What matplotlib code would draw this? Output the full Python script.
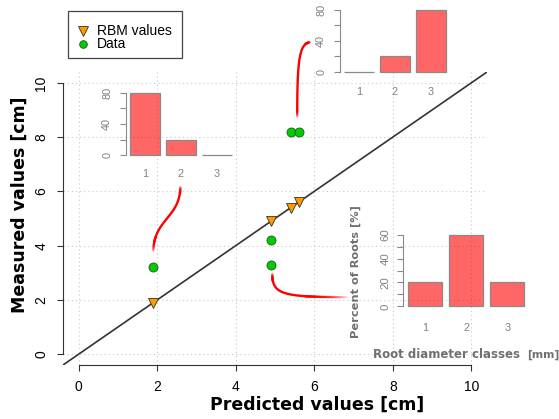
import numpy as np
import matplotlib
matplotlib.use("Agg")
import matplotlib.pyplot as plt
from matplotlib.collections import LineCollection
from matplotlib.lines import Line2D
from matplotlib.patches import Rectangle

# ---- values -------------------------------------------------------------
rbm_pred = [1.9, 4.9, 5.4, 5.6]          # predicted (RBM) values [cm]
rbm_meas = [1.9, 4.9, 5.4, 5.6]
data_pred = [1.9, 4.9, 4.9, 5.4, 5.6]    # observed points [cm]
data_meas = [3.2, 4.2, 3.3, 8.2, 8.2]

classes = ["1", "2", "3"]                # root diameter classes
pct_thin = [80, 20, 0]                   # root distribution, shallow site
pct_thick = [0, 20, 80]                  # root distribution, deep site
pct_mixed = [20, 60, 20]                 # root distribution, middle site

x_ticks = [0, 2, 4, 6, 8, 10]
y_ticks = [0, 2, 4, 6, 8, 10]

# ---- figure helpers -------------------------------------------------------
W, H = 559, 419
fig = plt.figure(figsize=(W / 100, H / 100), dpi=100)
SANS = "Liberation Sans"
BOLD = "DejaVu Sans"
GREY = "#808080"
LABEL_GREY = "#707070"


def px_axes(left, top, right, bottom):
    return fig.add_axes([left / W, 1 - bottom / H, (right - left) / W, (bottom - top) / H])


def fx(x):
    return x / W


def fy(y):
    return 1 - y / H


tri_style = dict(marker="v", ms=7.5, mfc="#FF9900", mec="#333333", mew=0.6, ls="none")
dot_style = dict(marker="o", ms=6.5, mfc="#00CC00", mec="#225522", mew=0.6, ls="none")

# ---- main scatter ---------------------------------------------------------
ax = px_axes(63, 72, 487, 365)
ax.set_xlim(-0.4, 10.4)
ax.set_ylim(-0.4, 10.4)
ax.set_facecolor("none")
ax.set_xticks(x_ticks)
ax.set_yticks(y_ticks)
ax.set_xticklabels([str(v) for v in x_ticks], fontfamily=SANS, fontsize=10)
ax.set_yticklabels([str(v) for v in y_ticks], fontfamily=SANS, fontsize=10,
                   rotation=90, va="center")
ax.tick_params(length=4.5, width=0.8, color="#333333")
ax.tick_params(axis="x", pad=6)
ax.tick_params(axis="y", pad=6)
for s in ("top", "right"):
    ax.spines[s].set_visible(False)
for s in ("left", "bottom"):
    ax.spines[s].set_bounds(0, 10)
    ax.spines[s].set_color("#333333")
    ax.spines[s].set_linewidth(0.8)
ax.grid(True, ls=(0, (1.2, 2.5)), color="#d0d0d0", lw=0.8)
ax.set_axisbelow(True)

ax.axline((0, 0), slope=1, color="#333333", lw=1.2, zorder=2)
ax.plot(rbm_pred, rbm_meas, zorder=4, **tri_style)
ax.plot(data_pred, data_meas, zorder=4, **dot_style)

fig.text(fx(317), fy(405), "Predicted values [cm]", ha="center", va="center",
         fontsize=12.5, fontweight="bold", fontfamily=BOLD)
fig.text(fx(20), fy(205), "Measured values [cm]", ha="center", va="center",
         rotation=90, fontsize=12.5, fontweight="bold", fontfamily=BOLD)


# ---- connectors from points to their histograms ----------------------------
def connector(p0, p1, p2, p3, fade_start, fade_end, n=200):
    t = np.linspace(0, 1, n)[:, None]
    pts = ((1 - t) ** 3 * np.array(p0) + 3 * (1 - t) ** 2 * t * np.array(p1)
           + 3 * (1 - t) * t ** 2 * np.array(p2) + t ** 3 * np.array(p3))
    tm = np.linspace(0, 1, n - 1)
    a = np.clip(np.minimum(tm / fade_start, (1 - tm) / fade_end), 0, 1)
    solid = a >= 1
    # fully opaque middle part as one path
    idx = np.where(solid)[0]
    ax.plot(pts[idx[0]:idx[-1] + 2, 0], pts[idx[0]:idx[-1] + 2, 1], color="red",
            lw=1.7, solid_capstyle="butt", clip_on=False, zorder=3)
    # fading ends as short segments
    segs = np.stack([pts[:-1], pts[1:]], axis=1)[~solid]
    cols = np.zeros((len(segs), 4))
    cols[:, 0] = 1.0
    cols[:, 3] = a[~solid]
    ax.add_collection(LineCollection(segs, colors=cols, linewidths=1.7,
                                     capstyle="round", clip_on=False, zorder=3))


# from the lone point at (1.9, 3.2) up to the first histogram
x0, y0 = data_pred[0], data_meas[0] + 0.55
connector((x0, y0), (x0, 5.0), (2.59, 5.0), (2.59, 6.2), 0.18, 0.08)
# from the pair at 8.2 up to the top histogram
x0, y0 = (data_pred[3] + data_pred[4]) / 2 + 0.065, data_meas[3] + 0.5
connector((x0, y0), (x0, 10.9), (5.62, 11.45), (5.9, 11.5), 0.05, 0.16)
# from the point at (4.9, 3.3) to the right-hand histogram
x0, y0 = data_pred[2] + 0.03, data_meas[2] - 0.31
connector((x0, y0), (x0, 2.2), (5.15, 2.1), (6.91, 2.1), 0.14, 0.28)


# ---- histogram insets -----------------------------------------------------
def inset(box, values, ymax, major, minor_step, fs_y, fs_x, pad_y, pad_x):
    a = px_axes(*box)
    pos = [0.7, 1.9, 3.1]
    a.bar(pos, values, width=1.0, color=(1, 0, 0, 0.6), edgecolor="#8a8a8a",
          linewidth=0.9, zorder=2)
    a.set_xlim(0.064, 3.736)
    a.set_ylim(-0.04 * ymax, 1.04 * ymax)
    a.set_facecolor("none")
    for s in ("top", "right", "bottom"):
        a.spines[s].set_visible(False)
    a.spines["left"].set_bounds(0, ymax)
    a.spines["left"].set_color("#8a8a8a")
    a.spines["left"].set_linewidth(0.8)
    ticks = list(range(0, ymax + 1, minor_step))
    a.set_yticks(ticks)
    a.set_yticklabels([str(v) if v in major else "" for v in ticks],
                      rotation=90, va="center", fontfamily=SANS, fontsize=fs_y,
                      color=GREY)
    a.tick_params(axis="y", length=4.3, width=0.8, color="#8a8a8a", pad=pad_y)
    a.set_xticks(pos)
    a.set_xticklabels(classes, fontfamily=SANS, fontsize=fs_x, color=GREY)
    a.tick_params(axis="x", length=0, pad=pad_x)
    return a


inset((125.9, 90.2, 236.1, 157.8), pct_thin, 80, (0, 40, 80), 20, 7.8, 7.8, 5.6, 8.3)
inset((339.9, 7.2, 450.1, 74.5), pct_thick, 80, (0, 40, 80), 20, 7.8, 7.8, 5.6, 8.8)
inset((403.4, 231.8, 528.9, 309.2), pct_mixed, 60, (0, 20, 40, 60), 10, 8.2, 7.8, 5.0, 10.2)

fig.text(fx(356), fy(272), "Percent of Roots [%]", ha="center", va="center",
         rotation=90, fontsize=8.2, fontweight="bold", fontfamily=BOLD, color=LABEL_GREY)
fig.text(fx(373), fy(354), "Root diameter classes", ha="left", va="center",
         fontsize=8.5, fontweight="bold", fontfamily=BOLD, color=LABEL_GREY)
fig.text(fx(527), fy(355), "[mm]", ha="left", va="center",
         fontsize=7.8, fontweight="bold", fontfamily=BOLD, color=LABEL_GREY)

# ---- legend ---------------------------------------------------------------
fig.add_artist(Rectangle((fx(68), fy(58)), fx(182 - 68), (58 - 11) / H,
                         transform=fig.transFigure, facecolor="white",
                         edgecolor="#444444", lw=0.9))
fig.add_artist(Line2D([fx(83)], [fy(31)], transform=fig.transFigure, **tri_style))
fig.add_artist(Line2D([fx(83)], [fy(44)], transform=fig.transFigure,
                      **{**dot_style, "ms": 5.5}))
fig.text(fx(97), fy(31), "RBM values", va="center", fontfamily=SANS, fontsize=10)
fig.text(fx(97), fy(44), "Data", va="center", fontfamily=SANS, fontsize=10)

fig.savefig("out.png", dpi=100)
